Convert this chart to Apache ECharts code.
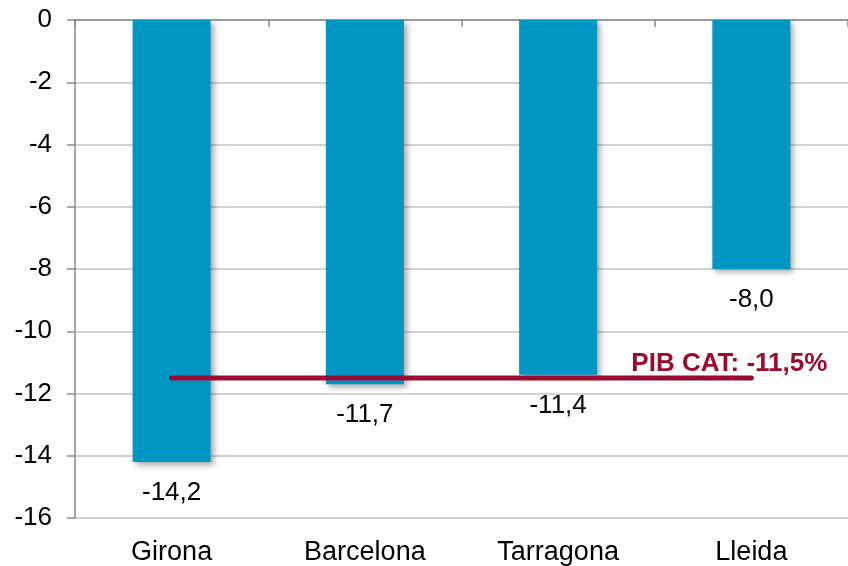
<!DOCTYPE html>
<html>
<head>
<meta charset="utf-8">
<script src="https://cdn.jsdelivr.net/npm/echarts@6/dist/echarts.min.js"></script>
<style>
  html, body { margin: 0; padding: 0; background: #fff; }
  #chart { width: 848px; height: 566px; }
</style>
</head>
<body>
<div id="chart"></div>
<script>
// caiguda del PIB per demarcacions
const categories = ['Girona', 'Barcelona', 'Tarragona', 'Lleida']
const values = [-14.2, -11.7, -11.4, -8.0]
const pibCat = -11.5
const pibLabel = 'PIB CAT: -11,5%'
const yTicks = { min: -16, max: 0, interval: 2 }

const red = '#9B0A2F'
const blue = '#0096C4'
const font = 'Liberation Sans, Arial, sans-serif'

const chart = echarts.init(document.getElementById('chart'))

// la línia del PIB català, amb l'etiqueta només a l'últim punt
const lineData = categories.map((c, i) => {
  if (i === categories.length - 1) {
    return {
      value: pibCat,
      label: {
        show: true,
        formatter: pibLabel,
        position: 'top',
        distance: 1,
        offset: [-22, 0],
        color: red,
        fontWeight: 'bold',
        fontSize: 26,
        fontFamily: font
      }
    }
  }
  return pibCat
})

const option = {
  animation: false,
  textStyle: { fontFamily: font },
  grid: { left: 75, right: 0, top: 20, bottom: 48, outerBoundsMode: 'none' },
  xAxis: [
    {
      type: 'category',
      position: 'top',
      data: categories,
      axisLine: { show: true, lineStyle: { color: '#898989', width: 1.5 } },
      axisTick: { show: true, inside: true, length: 7, lineStyle: { color: '#898989', width: 1.5 } },
      axisLabel: { show: false }
    },
    {
      type: 'category',
      position: 'bottom',
      data: categories,
      axisLine: { show: false },
      axisTick: { show: false },
      axisLabel: { color: '#000', fontSize: 27, margin: 21, fontFamily: font }
    }
  ],
  yAxis: {
    type: 'value',
    min: yTicks.min,
    max: yTicks.max,
    interval: yTicks.interval,
    axisLine: { show: true, lineStyle: { color: '#898989', width: 1.5 } },
    axisTick: { show: true, length: 8, lineStyle: { color: '#898989', width: 1.5 } },
    axisLabel: { color: '#000', fontSize: 26, margin: 23, fontFamily: font },
    splitLine: { lineStyle: { color: '#C4C4C4', width: 1.5 } }
  },
  series: [
    {
      type: 'bar',
      xAxisIndex: 0,
      data: values,
      barWidth: 78,
      itemStyle: {
        color: blue,
        shadowColor: 'rgba(0,0,0,0.35)',
        shadowBlur: 6,
        shadowOffsetX: 3,
        shadowOffsetY: 3
      },
      label: {
        show: true,
        position: 'bottom',
        distance: 18,
        color: '#000',
        fontSize: 26,
        fontFamily: font,
        formatter: p => p.value.toFixed(1).replace('.', ',')
      }
    },
    {
      type: 'line',
      xAxisIndex: 0,
      data: lineData,
      symbol: 'circle',
      symbolSize: 0,
      showSymbol: true,
      lineStyle: { color: red, width: 5, cap: 'round' },
      itemStyle: { color: red },
      z: 5
    }
  ]
}

chart.setOption(option)
</script>
</body>
</html>
